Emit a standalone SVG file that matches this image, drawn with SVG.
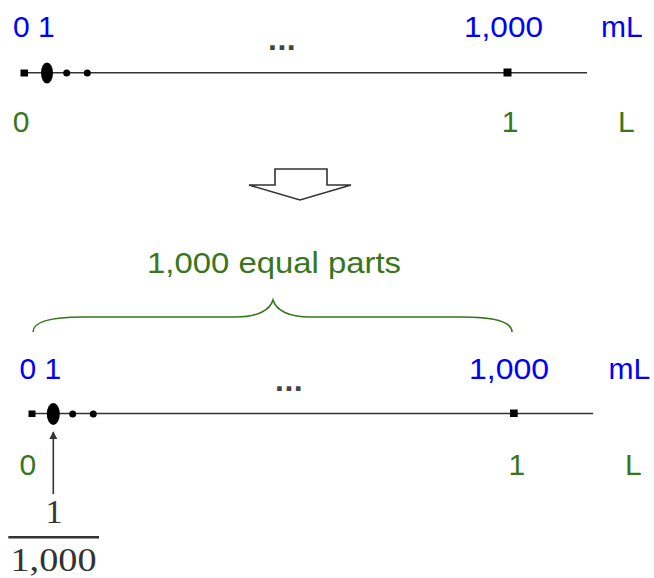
<svg xmlns="http://www.w3.org/2000/svg" width="654" height="578" viewBox="0 0 654 578">
  <style>
    .lbl { font-family: "Liberation Sans", Arial, sans-serif; font-size: 30px; }
    .blue { fill: #0000ff; }
    .green { fill: #38761d; }
    .dots { font-family: "Liberation Sans", Arial, sans-serif; font-size: 32px; font-weight: bold; fill: #444; letter-spacing: 0.5px; }
    .axis { stroke: #333; stroke-width: 1.6; fill: none; }
    .mark { fill: #000; }
    .frac { font-family: "Liberation Serif", "Times New Roman", serif; font-size: 34px; fill: #333; }
  </style>
  <defs>
    <marker id="ah" viewBox="0 0 10 10" refX="9" refY="5" markerWidth="8" markerHeight="8" markerUnits="userSpaceOnUse" orient="auto">
      <path d="M0,0 L10,5 L0,10 z" fill="#333"/>
    </marker>
  </defs>

  <!-- Top number line -->
  <g id="top-line">
    <text class="lbl blue" x="13" y="37">0 1</text>
    <text class="lbl blue" x="464" y="37" textLength="79" lengthAdjust="spacingAndGlyphs">1,000</text>
    <text class="lbl blue" x="601" y="37">mL</text>
    <text class="dots" x="268" y="49.5">...</text>
    <line class="axis" x1="21" y1="72.7" x2="587" y2="72.7"/>
    <rect class="mark" x="20.5" y="69.5" width="7.5" height="7"/>
    <ellipse class="mark" cx="47" cy="73" rx="6" ry="10.5"/>
    <circle class="mark" cx="66.7" cy="73" r="3.5"/>
    <circle class="mark" cx="87.3" cy="73" r="3.5"/>
    <rect class="mark" x="503.5" y="68.5" width="8" height="8"/>
    <text class="lbl green" x="12.7" y="132">0</text>
    <text class="lbl green" x="501.7" y="132">1</text>
    <text class="lbl green" x="618" y="132">L</text>
  </g>

  <!-- Hollow down arrow -->
  <g id="down-arrow">
    <polygon points="275,169 327,169 327,185 351,185 300,200 249,185 275,185" fill="#fff" stroke="#333" stroke-width="1.6" stroke-linejoin="miter"/>
  </g>

  <!-- Brace with label -->
  <g id="brace">
    <text class="lbl green" x="147" y="273" textLength="254" lengthAdjust="spacingAndGlyphs">1,000 equal parts</text>
    <path d="M33,332 C33,322 50,317 83,317 L236,317 C258,317 270,310 273,300 C276,310 288,317 310,317 L462,317 C495,317 512,322 512,332" fill="none" stroke="#38761d" stroke-width="1.6"/>
  </g>

  <!-- Bottom number line -->
  <g id="bottom-line">
    <text class="lbl blue" x="19.5" y="379">0 1</text>
    <text class="lbl blue" x="469" y="378.5" textLength="80" lengthAdjust="spacingAndGlyphs">1,000</text>
    <text class="lbl blue" x="608.5" y="378.5">mL</text>
    <text class="dots" x="275" y="390.5">...</text>
    <line class="axis" x1="29" y1="413.5" x2="593" y2="413.5"/>
    <rect class="mark" x="28.5" y="410.5" width="7" height="6.5"/>
    <ellipse class="mark" cx="53.3" cy="414" rx="6.5" ry="11"/>
    <circle class="mark" cx="72.7" cy="414" r="3.5"/>
    <circle class="mark" cx="93.3" cy="414" r="3.5"/>
    <rect class="mark" x="510" y="409.5" width="7.7" height="7.5"/>
    <text class="lbl green" x="19.4" y="474.5">0</text>
    <text class="lbl green" x="508.5" y="474.5">1</text>
    <text class="lbl green" x="625" y="474.5">L</text>
  </g>

  <!-- Fraction 1/1,000 -->
  <g id="fraction">
    <text class="frac" x="54" y="522.7" text-anchor="middle">1</text>
    <line x1="8.3" y1="537.3" x2="99" y2="537.3" stroke="#333" stroke-width="2.4"/>
    <text class="frac" x="10.5" y="570.5" textLength="86" lengthAdjust="spacingAndGlyphs">1,000</text>
  </g>

  <!-- Connectors -->
  <g id="connectors">
    <line x1="53.3" y1="494" x2="53.3" y2="432" stroke="#333" stroke-width="1.6" marker-end="url(#ah)"/>
  </g>
</svg>
